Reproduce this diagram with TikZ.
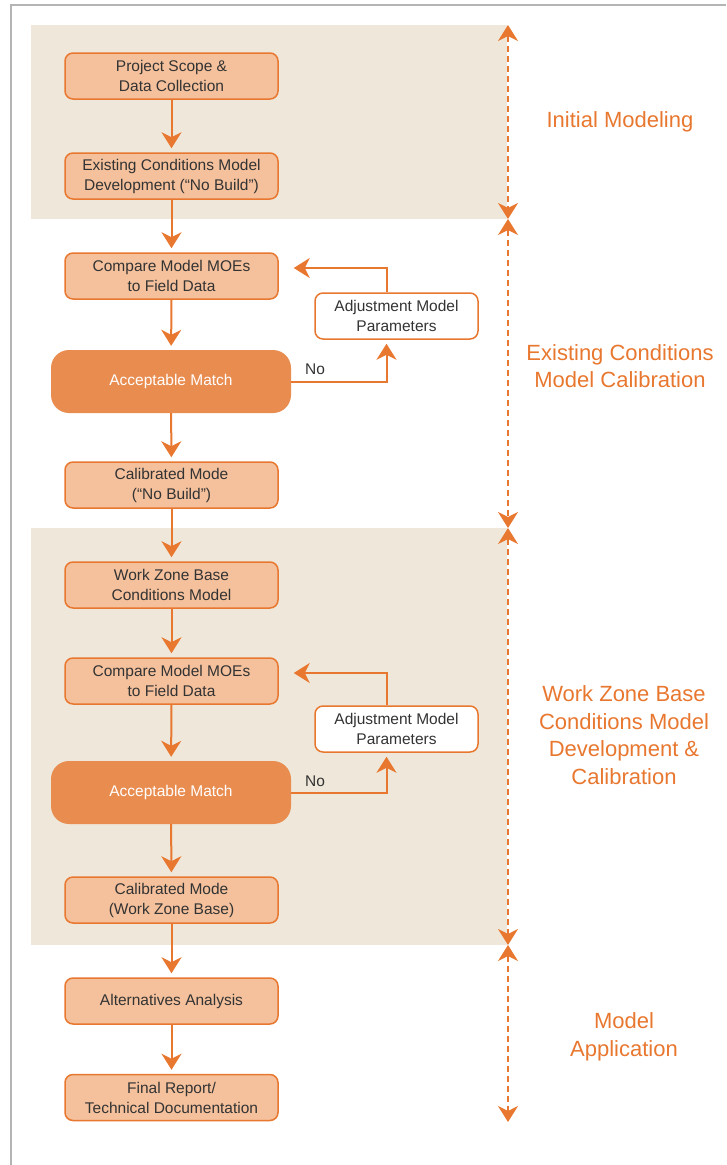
\documentclass[tikz,border=0pt]{standalone}
\usepackage{fontspec}
\setmainfont{Liberation Sans}
\usetikzlibrary{arrows.meta}
\definecolor{boxfill}{HTML}{F4C19C}
\definecolor{boxline}{HTML}{E8772F}
\definecolor{matchfill}{HTML}{E98C50}
\definecolor{bandfill}{HTML}{EFE8DA}
\definecolor{txtgray}{HTML}{333333}
\definecolor{framegray}{HTML}{B4B4B4}

\begin{document}
\begin{tikzpicture}[x=1pt,y=-1pt,
		every node/.style={font=\fontsize{15.5}{20}\selectfont,text=txtgray},
		stepbox/.style={draw=boxline,fill=boxfill,line width=1.5pt,rounded corners=8pt,
			minimum width=213pt,minimum height=46pt,align=center,inner sep=0pt},
		matchbox/.style={fill=matchfill,rounded corners=18pt,minimum width=240pt,
			minimum height=63pt,text=white},
		adjbox/.style={draw=boxline,fill=white,line width=1.5pt,rounded corners=8pt,
			minimum width=163pt,minimum height=46pt,align=center,inner sep=0pt},
		flow/.style={draw=boxline,line width=2pt,shorten >=4pt,
			-{Stealth[length=16pt,width=20pt,inset=5pt]}},
		phase/.style={draw=boxline,line width=1.6pt,dash pattern=on 6pt off 4pt,
			{Stealth[length=16pt,width=20pt,inset=5pt]}-{Stealth[length=16pt,width=20pt,inset=5pt]}},
		stage/.style={font=\fontsize{22}{27.5}\selectfont,text=boxline,align=center}]
		\useasboundingbox (0,0) rectangle (726,1165);
		
		% frame and phase bands
		\draw[framegray,line width=1.5pt] (11,1165) -- (11,5) -- (726,5);
		\fill[bandfill] (31,25) rectangle (507,219);
		\fill[bandfill] (31,528) rectangle (507,945);
		
		% flow boxes
		\node[stepbox] (scope) at (171.5,76) {Project Scope \&\\Data Collection};
		\node[stepbox] (exist) at (171.5,176) {Existing Conditions Model\\Development (``No Build'')};
		\node[stepbox] (cmpA) at (171.5,276) {Compare Model MOEs\\to Field Data};
		\node[matchbox] (matchA) at (171,381.5) {Acceptable Match};
		\node[adjbox] (adjA) at (396.5,316) {Adjustment Model\\Parameters};
		\node (noA) at (315,369) {No};
		\node[stepbox] (calibA) at (171.5,485) {Calibrated Mode\\(``No Build'')};
		\node[stepbox] (wzbase) at (171.5,585) {Work Zone Base\\Conditions Model};
		\node[stepbox] (cmpB) at (171.5,681) {Compare Model MOEs\\to Field Data};
		\node[matchbox] (matchB) at (171,792.5) {Acceptable Match};
		\node[adjbox] (adjB) at (396.5,729) {Adjustment Model\\Parameters};
		\node (noB) at (315,781) {No};
		\node[stepbox] (calibB) at (171.5,900) {Calibrated Mode\\(Work Zone Base)};
		\node[stepbox] (alts) at (171.5,1001) {Alternatives Analysis};
		\node[stepbox] (report) at (171.5,1097.5) {Final Report/\\Technical Documentation};
		
		% connectors
		\draw[flow] (scope) -- (exist);
		\draw[flow] (exist) -- (cmpA);
		\draw[flow] (cmpA) -- (matchA);
		\draw[flow] (matchA.east) -| ([xshift=-10pt]adjA.south);
		\draw[flow] ([xshift=-10pt]adjA.north) |- ([xshift=11pt,yshift=8pt]cmpA.east);
		\draw[flow] (matchA) -- (calibA);
		\draw[flow] (calibA) -- (wzbase);
		\draw[flow] (wzbase) -- (cmpB);
		\draw[flow] (cmpB) -- (matchB);
		\draw[flow] (matchB.east) -| ([xshift=-10pt]adjB.south);
		\draw[flow] ([xshift=-10pt]adjB.north) |- ([xshift=11pt,yshift=8pt]cmpB.east);
		\draw[flow] (matchB) -- (calibB);
		\draw[flow] (calibB) -- (alts);
		\draw[flow] (alts) -- (report);
		
		% phase markers
		\coordinate (ph0) at (508,25);
		\coordinate (ph1) at (508,219);
		\coordinate (ph2) at (508,528);
		\coordinate (ph3) at (508,945);
		\coordinate (ph4) at (508,1122);
		\draw[phase] (ph0) -- (ph1);
		\draw[phase] (ph1) -- (ph2);
		\draw[phase] (ph2) -- (ph3);
		\draw[phase] (ph3) -- (ph4);
		
		\node[stage] (initial) at (620,122) {Initial Modeling};
		\node[stage] (calib) at (620,366) {Existing Conditions\\Model Calibration};
		\node[stage] (wzdev) at (624,735) {Work Zone Base\\Conditions Model\\Development \&\\Calibration};
		\node[stage] (apply) at (624,1037) {Model\\Application};
	\end{tikzpicture}
\end{document}
